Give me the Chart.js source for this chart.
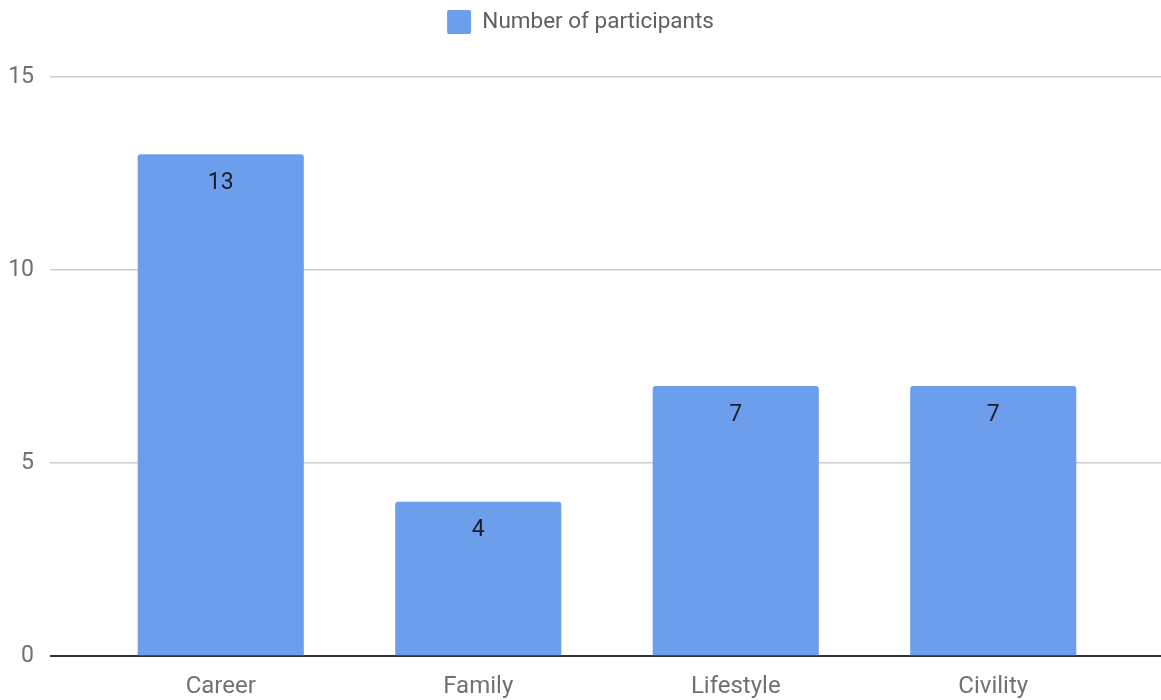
<!DOCTYPE html>
<html>
<head>
<meta charset="utf-8">
<script src="https://cdn.jsdelivr.net/npm/chart.js@4/dist/chart.umd.min.js"></script>
<style>
html,body{margin:0;padding:0;background:#fff;}
#wrap{width:1161px;height:700px;position:relative;}
</style>
</head>
<body>
<div id="wrap"><canvas id="c"></canvas></div>
<script>
const categories = ['Career', 'Family', 'Lifestyle', 'Civility'];
const participants = [13, 4, 7, 7];
const seriesLabel = 'Number of participants';
const yTicks = [0, 5, 10, 15];

const gridColor = ctx => (ctx.tick && ctx.tick.value === 0) ? '#333333' : '#cccccc';
const gridWidth = ctx => (ctx.tick && ctx.tick.value === 0) ? 2 : 1.5;

const valueLabels = {
  id: 'valueLabels',
  afterDatasetsDraw(chart) {
    const ctx = chart.ctx;
    const meta = chart.getDatasetMeta(0);
    ctx.save();
    ctx.font = '23px Roboto';
    ctx.fillStyle = '#1c1c2a';
    ctx.textAlign = 'center';
    ctx.textBaseline = 'middle';
    meta.data.forEach((bar, i) => {
      ctx.fillText(String(chart.data.datasets[0].data[i]), bar.x, bar.y + 29);
    });
    ctx.restore();
  }
};

new Chart(document.getElementById('c'), {
  type: 'bar',
  data: {
    labels: categories,
    datasets: [{
      label: seriesLabel,
      data: participants,
      backgroundColor: '#6d9eeb',
      borderRadius: {topLeft: 3, topRight: 3, bottomLeft: 0, bottomRight: 0},
      borderSkipped: 'start',
      categoryPercentage: 1,
      barPercentage: 0.645,
      yAxisID: 'y'
    }]
  },
  options: {
    responsive: true,
    maintainAspectRatio: false,
    animation: false,
    layout: {padding: {top: 0, bottom: -17, left: 0, right: 0}},
    plugins: {
      legend: {
        position: 'top',
        labels: {
          font: {family: 'Roboto', size: 22.5},
          color: '#5f5f5f',
          boxWidth: 24,
          boxHeight: 24,
          padding: 10,
          useBorderRadius: true,
          borderRadius: 2
        }
      },
      subtitle: {
        display: true,
        text: ' ',
        weight: 500,
        font: {size: 13, lineHeight: 1},
        padding: {top: 10, bottom: 10}
      },
      tooltip: {enabled: false}
    },
    scales: {
      x: {
        grid: {display: false, drawTicks: false},
        border: {display: false},
        ticks: {font: {family: 'Roboto', size: 24}, color: '#717171', padding: 16}
      },
      y: {
        position: 'left',
        min: 0, max: 15,
        afterBuildTicks: s => { s.ticks = yTicks.map(v => ({value: v})); },
        afterFit: s => { s.width = 92; },
        grid: {color: gridColor, lineWidth: gridWidth, tickLength: 42, tickColor: gridColor},
        border: {display: false},
        ticks: {font: {family: 'Roboto', size: 23}, color: '#717171', padding: 16}
      },
      y2: {
        position: 'right',
        min: 0, max: 15,
        afterBuildTicks: s => { s.ticks = yTicks.map(v => ({value: v})); },
        afterFit: s => { s.width = 39; },
        grid: {color: gridColor, lineWidth: gridWidth, tickLength: 42, drawOnChartArea: false},
        border: {display: false},
        ticks: {font: {family: 'Roboto', size: 20}, color: 'rgba(0,0,0,0)', padding: 0}
      }
    }
  },
  plugins: [valueLabels]
});
</script>
</body>
</html>
